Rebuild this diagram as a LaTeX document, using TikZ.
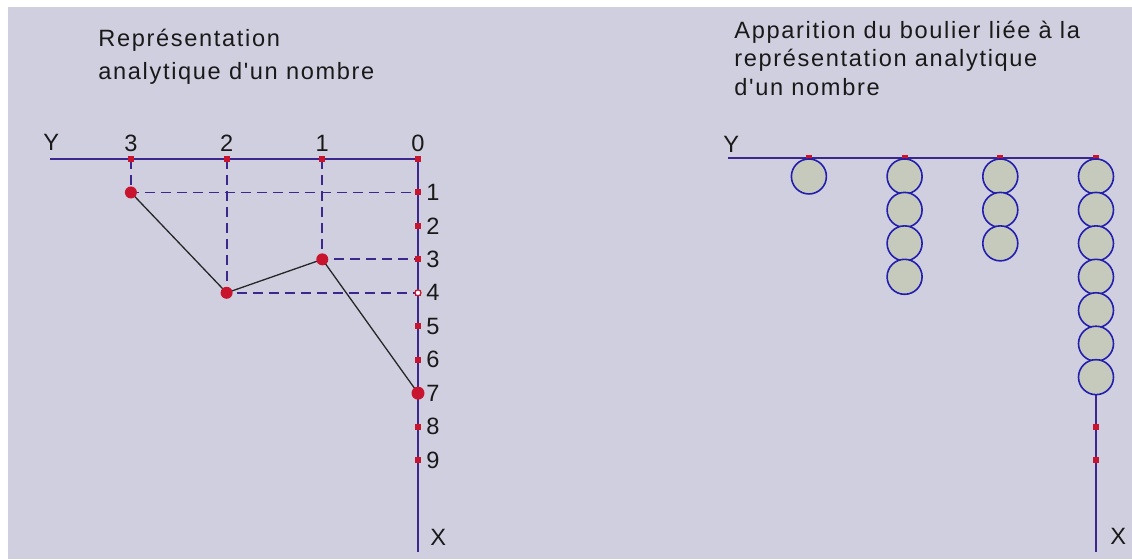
\documentclass[tikz,border=0pt]{standalone}
\usepackage{fontspec}
\setmainfont{Liberation Sans}
\newfontfamily\lblfont[LetterSpace=7]{Liberation Sans}
\usetikzlibrary{positioning}

\definecolor{bgpanel}{RGB}{208,207,224}
\definecolor{axisblue}{RGB}{60,40,140}
\definecolor{tickred}{RGB}{200,20,45}
\definecolor{beadfill}{RGB}{198,202,188}
\definecolor{beadline}{RGB}{35,30,175}

\pgfdeclarelayer{back}
\pgfdeclarelayer{wires}
\pgfsetlayers{back,wires,main}

\begin{document}
\begin{tikzpicture}[x=0.5pt,y=-0.5pt,
  axis/.style={draw=axisblue,line width=1pt},
  guide/.style={draw=axisblue,line width=0.9pt,dash pattern=on 5pt off 3pt},
  link/.style={draw=black!85,line width=0.65pt},
  tick/.style={fill=tickred,minimum size=3pt,inner sep=0pt,outer sep=0pt},
  dot/.style={circle,fill=tickred,minimum size=6pt,inner sep=0pt,outer sep=0pt},
  bead/.style={circle,draw=beadline,fill=beadfill,line width=0.8pt,minimum size=17.5pt,inner sep=0pt},
  lbl/.style={font=\lblfont\fontsize{11.8}{14}\selectfont,inner sep=0pt,text=black!90}]
\useasboundingbox (0,0) rectangle (1132,559);
\begin{pgfonlayer}{back}
  \fill[white] (0,0) rectangle (1132,559);
  \fill[bgpanel] (8,7) rectangle (1132,559);
\end{pgfonlayer}

% titles
\foreach \t [count=\i] in {Représentation,analytique d'un nombre}
  \node[lbl,anchor=base west] (titleL\i) at (98,{46.7+32.3*(\i-1)}) {\t};
\foreach \t [count=\i] in {Apparition du boulier liée à la,représentation analytique,d'un nombre}
  \node[lbl,anchor=base west] (titleR\i) at (734,{38.3+28.5*(\i-1)}) {\t};

% left: analytic representation
\coordinate (yend) at (50,159);
\coordinate (xend) at (418,552);
\foreach \d in {0,...,3} {
  \node[tick] (h\d) at ({418-95.7*\d},159) {};
  \node[lbl,anchor=base] (hl\d) at ({418-95.7*\d},151) {\d};
}
\foreach \d in {1,...,9} {
  \node[tick] (v\d) at (418,{159+33.45*\d}) {};
  \node[lbl,anchor=west] (vl\d) at (426,{159+33.45*\d}) {\d};
}
\node[circle,draw=tickred,fill=white,line width=0.6pt,minimum size=3pt,inner sep=0pt] (v4) at (418,{159+33.45*4}) {};
\node[lbl,anchor=base west] (ylab) at (43,150) {Y};
\node[lbl,anchor=base west] (xlab) at (430,545) {X};

\node[dot] (p3) at (h3 |- v1) {};
\node[dot] (p2) at (h2 |- v4) {};
\node[dot] (p1) at (h1 |- v3) {};
\node[dot,minimum size=6.5pt] (p0) at (v7) {};

\begin{pgfonlayer}{wires}
  \draw[axis] (yend) -- (h0.center) -- (xend);
  \draw[guide] (h3.center) -- (p3.center) -- (v1.center);
  \draw[guide] (h2.center) -- (p2.center) -- (v4.center);
  \draw[guide] (h1.center) -- (p1.center) -- (v3.center);
  \draw[link] (p3.center) -- (p2.center) -- (p1.center) -- (p0.center);
\end{pgfonlayer}

% right: abacus
\coordinate (yendR) at (728,158);
\coordinate (xendR) at (1096,552);
\foreach \d in {0,...,3}
  \node[tick] (hb\d) at ({1096-95.7*\d},158) {};
\foreach \d in {8,9}
  \node[tick] (vb\d) at (1096,{159+33.45*\d}) {};
\node[lbl,anchor=base west] (ylabR) at (723,152) {Y};
\node[lbl,anchor=base west] (xlabR) at (1110,544) {X};
\begin{pgfonlayer}{wires}
  \draw[axis] (yendR) -- (hb0.center) -- (xendR);
\end{pgfonlayer}
\foreach \d/\n in {3/1,2/4,1/3,0/7}
  \foreach \k in {1,...,\n}
    \node[bead] (b\d-\k) at ({1096-95.7*\d},{158+33.45*\k-15}) {};
\end{tikzpicture}
\end{document}
